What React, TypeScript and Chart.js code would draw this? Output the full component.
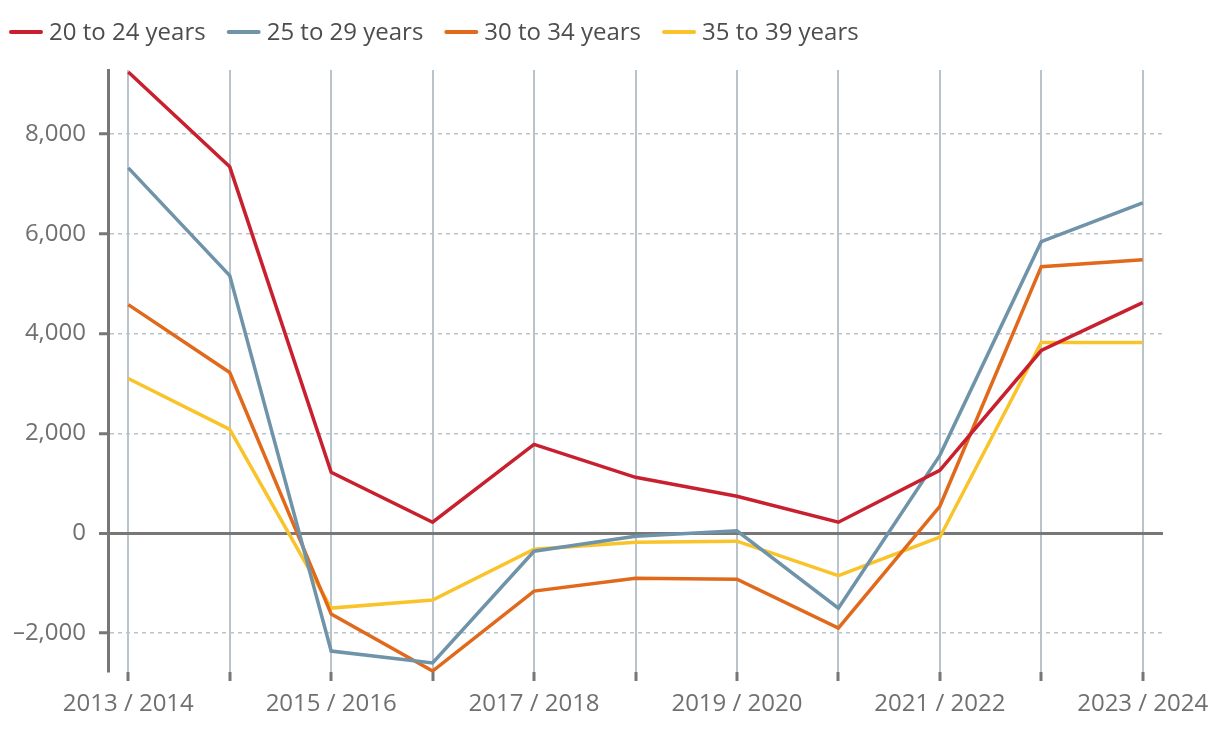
import React, { useEffect, useRef } from "react";
import { Chart, registerables } from "chart.js";

Chart.register(...registerables);

const categories = [
  "2013 / 2014",
  "2014 / 2015",
  "2015 / 2016",
  "2016 / 2017",
  "2017 / 2018",
  "2018 / 2019",
  "2019 / 2020",
  "2020 / 2021",
  "2021 / 2022",
  "2022 / 2023",
  "2023 / 2024",
];

const seriesNames = ["20 to 24 years", "25 to 29 years", "30 to 34 years", "35 to 39 years"];

const age20to24 = [9240, 7340, 1220, 220, 1780, 1120, 740, 220, 1260, 3660, 4620];
const age25to29 = [7320, 5160, -2360, -2600, -360, -60, 50, -1500, 1560, 5840, 6620];
const age30to34 = [4580, 3220, -1620, -2760, -1160, -900, -920, -1900, 540, 5340, 5480];
const age35to39 = [3100, 2080, -1500, -1340, -320, -180, -160, -850, -80, 3820, 3820];

const yTickValues = [-2000, 0, 2000, 4000, 6000, 8000];

const colors = ["#c8202e", "#6f93a8", "#e0691b", "#f9c32a"];

const FONT = '"Open Sans", sans-serif';

const legendPlugin = {
  id: "customLegend",
  afterDraw(chart: any) {
    const ctx = chart.ctx;
    ctx.save();
    ctx.font = `24px ${FONT}`;
    ctx.textBaseline = "middle";
    ctx.textAlign = "left";
    let x = 10;
    const y = 32;
    chart.data.datasets.forEach((ds: any) => {
      ctx.strokeStyle = ds.borderColor;
      ctx.lineWidth = 4;
      ctx.lineCap = "round";
      ctx.beginPath();
      ctx.moveTo(x + 1, y);
      ctx.lineTo(x + 31, y);
      ctx.stroke();
      x += 39;
      ctx.fillStyle = "#4d4d4d";
      ctx.fillText(ds.label, x, y + 1);
      x += ctx.measureText(ds.label).width + 22;
    });
    ctx.restore();
  },
};

function fmt(v: number) {
  const s = Math.abs(v).toLocaleString("en-US");
  return v < 0 ? "\u2013" + s : s;
}

export default function App() {
  const ref = useRef<HTMLCanvasElement | null>(null);

  useEffect(() => {
    document.body.style.margin = "0";
    const series = [age20to24, age25to29, age30to34, age35to39];
    const chart = new Chart(ref.current as HTMLCanvasElement, {
      type: "line",
      data: {
        labels: categories,
        datasets: series.map((vals, si) => ({
          label: seriesNames[si],
          data: vals.map((v, i) => ({ x: i, y: v })),
          borderColor: colors[si],
          backgroundColor: colors[si],
          borderWidth: 3.5,
          pointRadius: 0,
          tension: 0,
          fill: false,
        })),
      },
      options: {
        animation: false,
        responsive: false,
        maintainAspectRatio: false,
        layout: { padding: { top: 70, right: 57, left: 0, bottom: 0 } },
        plugins: {
          legend: { display: false },
          tooltip: { enabled: false },
        },
        scales: {
          x: {
            type: "linear",
            min: -0.2,
            max: 10.2,
            afterBuildTicks: (scale: any) => {
              scale.ticks = categories.map((_, i) => ({ value: i }));
            },
            afterFit: (scale: any) => {
              scale.height = 60;
            },
            ticks: {
              autoSkip: false,
              maxRotation: 0,
              color: "#707070",
              font: { family: FONT, size: 24 },
              padding: 9,
              callback: (v: any) => {
                const i = Math.round(Number(v));
                return i % 2 === 0 ? categories[i] : "";
              },
            },
            grid: {
              color: "#b8c3cb",
              lineWidth: 2,
              tickColor: "#777777",
              tickWidth: 3,
              tickLength: 9,
              drawOnChartArea: true,
            },
            border: { display: false },
          },
          y: {
            min: -2780,
            max: 9280,
            afterBuildTicks: (scale: any) => {
              scale.ticks = yTickValues.map((v) => ({ value: v }));
            },
            afterFit: (scale: any) => {
              scale.width = 108;
            },
            ticks: {
              color: "#707070",
              font: { family: FONT, size: 24 },
              padding: 13,
              callback: (v: any) => fmt(Number(v)),
            },
            grid: {
              color: (c: any) => (c.tick && c.tick.value === 0 ? "#777777" : "#b8c3cb"),
              lineWidth: (c: any) => (c.tick && c.tick.value === 0 ? 3 : 1.5),
              tickColor: "#777777",
              tickWidth: 3,
              tickLength: 9,
            },
            border: {
              display: true,
              color: "#777777",
              width: 3,
              dash: (c: any) => (c.tick && c.tick.value === 0 ? [] : [4, 4]),
            },
          },
        },
      },
      plugins: [legendPlugin],
    } as any);
    return () => chart.destroy();
  }, []);

  return (
    <div style={{ width: 1220, height: 732 }}>
      <canvas ref={ref} width={1220} height={732} style={{ display: "block" }} />
    </div>
  );
}
